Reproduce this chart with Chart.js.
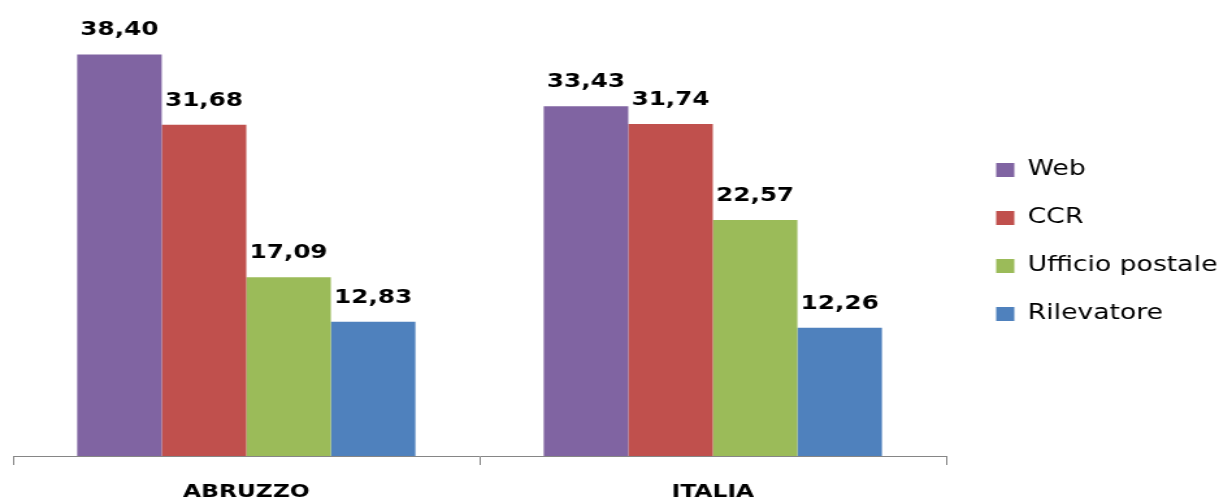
<!DOCTYPE html>
<html>
<head>
<meta charset="utf-8">
<title>Canali di restituzione</title>
<script src="https://cdn.jsdelivr.net/npm/chart.js@4"></script>
<style>
  html, body { margin: 0; padding: 0; background: #fff; }
  #grafico { display: block; }
</style>
</head>
<body>
<!-- canvas disegnato a 938px e allargato in orizzontale a 1219px -->
<canvas id="grafico" width="938" height="497" style="width:1219px;height:497px"></canvas>
<script>
// Dati
const categorie = ['ABRUZZO', 'ITALIA'];
const serie = ['Web', 'CCR', 'Ufficio postale', 'Rilevatore'];
const web = [38.40, 33.43];
const ccr = [31.68, 31.74];
const ufficioPostale = [17.09, 22.57];
const rilevatore = [12.83, 12.26];
const colori = ['#8064A2', '#C0504D', '#9BBB59', '#4F81BD'];

const valori = [web, ccr, ufficioPostale, rilevatore];

// Formatta un numero con la virgola decimale
function formatta(v) {
  return v.toFixed(2).replace('.', ',');
}

// Etichette dei valori sopra le barre
const etichetteValori = {
  id: 'etichetteValori',
  afterDatasetsDraw(chart) {
    const ctx = chart.ctx;
    ctx.save();
    ctx.font = 'bold 19px "DejaVu Sans"';
    ctx.fillStyle = '#000';
    ctx.textAlign = 'center';
    ctx.textBaseline = 'alphabetic';
    chart.data.datasets.forEach((ds, i) => {
      const meta = chart.getDatasetMeta(i);
      meta.data.forEach((bar, j) => {
        ctx.fillText(formatta(ds.data[j]), bar.x, bar.y - 19);
      });
    });
    ctx.restore();
  }
};

// Larghezza fissa della legenda e piccolo spostamento
const legendaFissa = {
  id: 'legendaFissa',
  beforeInit(chart) {
    const lg = chart.legend;
    const fit = lg.fit;
    lg.fit = function () {
      fit.call(this);
      this.width = 210;
    };
  },
  afterLayout(chart) {
    const lg = chart.legend;
    lg.left += 11; lg.right += 11;
    lg.top -= 6.5; lg.bottom -= 6.5;
  }
};

window.onload = function () {
  const ctx = document.getElementById('grafico').getContext('2d');
  new Chart(ctx, {
    type: 'bar',
    data: {
      labels: categorie,
      datasets: serie.map((nome, i) => ({
        label: nome,
        data: valori[i],
        backgroundColor: colori[i],
        borderWidth: 0,
        categoryPercentage: 0.725,
        barPercentage: 1
      }))
    },
    options: {
      responsive: false,
      animation: false,
      layout: { padding: { left: 10, right: 0, top: 0, bottom: 0 } },
      plugins: {
        legend: {
          display: true,
          position: 'right',
          align: 'center',
          labels: {
            boxWidth: 14,
            boxHeight: 14,
            padding: 27.5,
            color: '#000',
            font: { family: '"DejaVu Sans"', size: 20.5 }
          }
        },
        tooltip: { enabled: false }
      },
      scales: {
        x: {
          afterFit(scale) { scale.height = 41; },
          grid: {
            offset: true,
            drawOnChartArea: false,
            drawTicks: true,
            tickLength: 9,
            color: '#868686'
          },
          border: { display: true, color: '#868686', width: 1 },
          ticks: {
            padding: 17,
            color: '#000',
            font: { family: '"DejaVu Sans"', size: 18, weight: 'bold' }
          }
        },
        y: {
          display: false,
          min: 0,
          max: 43.6
        }
      }
    },
    plugins: [etichetteValori, legendaFissa]
  });
};
</script>
</body>
</html>
